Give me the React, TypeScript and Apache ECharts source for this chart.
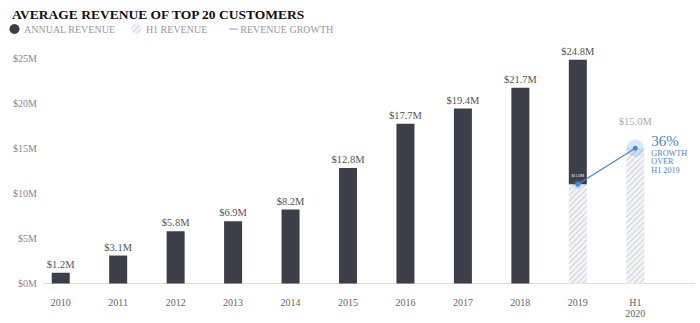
import React, { useEffect, useRef } from "react";
import * as echarts from "echarts";

const categories = ["2010", "2011", "2012", "2013", "2014", "2015", "2016", "2017", "2018", "2019", "H1\n2020"];
const annualRevenue: (number | null)[] = [1.2, 3.1, 5.8, 6.9, 8.2, 12.8, 17.7, 19.4, 21.7, 24.8, null];
const h1Revenue: (number | null)[] = [null, null, null, null, null, null, null, null, null, 11.0, 15.0];
const growthLine: (number | null)[] = [null, null, null, null, null, null, null, null, null, 11.0, 15.0];
const growthText = ["36%", "GROWTH", "OVER", "H1 2019"];
const yMin = 0;
const yMax = 25;
const yInterval = 5;

const FONT = "'Liberation Serif', 'DejaVu Serif', serif";
const DARK = "#3c3f47";
const BLUE = "#4a86cf";

export default function App() {
  const ref = useRef<HTMLDivElement>(null);
  useEffect(() => {
    if (!ref.current) return;
    const chart = echarts.init(ref.current, undefined, { renderer: "svg" });
    const darkPart = annualRevenue.map((v, i) => (v == null ? null : +(v - (h1Revenue[i] ?? 0)).toFixed(2)));
    const fmt = (v: number) => "$" + v.toFixed(1) + "M";
    const last = growthLine.length - 1;

    chart.setOption({
      animation: false,
      textStyle: { fontFamily: FONT },
      title: {
        text: "AVERAGE REVENUE OF TOP 20 CUSTOMERS",
        left: 7,
        top: 2,
        textStyle: { fontFamily: FONT, fontWeight: "bold", fontSize: 13.5, color: "#111" },
      },
      legend: {
        left: 4.5,
        top: 19,
        itemWidth: 15,
        itemHeight: 10,
        itemGap: 16,
        textStyle: { fontFamily: FONT, fontSize: 10, color: "#999", padding: [0, 0, 0, -3] },
        data: [
          { name: "ANNUAL REVENUE", icon: "circle" },
          { name: "H1 REVENUE", icon: "circle" },
          {
            name: "REVENUE GROWTH",
            icon: "path://M0,0 M15,10 M6,4.4 L15,4.4 L15,5.6 L6,5.6 Z",
            itemStyle: { color: "#8fb4e3" },
          },
        ],
      },
      grid: { left: 32, right: 36, top: 58, bottom: 39.5 },
      xAxis: {
        type: "category",
        data: categories,
        axisLine: { show: false },
        axisTick: { show: false },
        axisLabel: { fontFamily: FONT, fontSize: 10, color: "#666", margin: 13, lineHeight: 11.5 },
      },
      yAxis: {
        type: "value",
        min: yMin,
        max: yMax,
        interval: yInterval,
        splitLine: { show: false },
        axisLine: { show: false },
        axisTick: { show: false },
        axisLabel: { fontFamily: FONT, fontSize: 10, color: "#888", margin: -5, formatter: (v: number) => "$" + v + "M" },
      },
      series: [
        {
          name: "H1 REVENUE",
          type: "bar",
          stack: "rev",
          barWidth: 18,
          data: h1Revenue.map((v, i) => ({
            value: v,
            label: {
              show: i === last,
              position: "top",
              distance: 21,
              color: "#aaa",
              fontSize: 10.5,
              fontFamily: FONT,
              formatter: () => fmt(v as number),
            },
          })),
          itemStyle: {
            color: "#f3f4f6",
            decal: {
              symbol: "rect",
              symbolSize: 1,
              dashArrayX: [1, 0],
              dashArrayY: [1, 2.5],
              rotation: -Math.PI / 4,
              color: "#cfd2d8",
            },
          },
        },
        {
          name: "ANNUAL REVENUE",
          type: "bar",
          stack: "rev",
          barWidth: 18,
          itemStyle: { color: DARK },
          data: darkPart.map((v, i) => ({
            value: v,
            label: {
              show: v != null,
              position: "top",
              distance: 3,
              color: "#555",
              fontSize: 10.5,
              fontFamily: FONT,
              formatter: () => fmt(annualRevenue[i] as number),
            },
          })),
        },
        {
          name: "REVENUE GROWTH",
          type: "line",
          data: growthLine,
          symbol: "circle",
          symbolSize: 5,
          lineStyle: { color: BLUE, width: 1.2 },
          itemStyle: { color: BLUE },
          z: 5,
          label: {
            show: true,
            formatter: (p: any) => {
              if (p.dataIndex === last) {
                return "{a|" + growthText[0] + "}\n" + growthText.slice(1).map((t) => "{b|" + t + "}").join("\n");
              }
              return "{c|" + fmt(p.value) + "}";
            },
            position: "top",
            distance: 4,
            color: BLUE,
            rich: {
              a: { fontFamily: FONT, fontSize: 15, color: BLUE, lineHeight: 16 },
              b: { fontFamily: FONT, fontSize: 8.2, color: BLUE, lineHeight: 8.8 },
              c: { fontFamily: FONT, fontSize: 4, color: "#fff", lineHeight: 5 },
            },
          },
          labelLayout: (params: any) =>
            params.dataIndex === last
              ? { x: params.rect.x + params.rect.width / 2 + 16, y: params.rect.y + params.rect.height - 18, align: "left", verticalAlign: "top" }
              : {},
        },
        {
          name: "halo",
          type: "scatter",
          data: growthLine.map((v, i) => ({ value: v, symbolSize: i === last ? 17 : 9 })),
          itemStyle: { color: "rgba(90,150,230,0.3)" },
          z: 4,
          silent: true,
        },
      ],
    });

    const y0 = chart.convertToPixel({ yAxisIndex: 0 }, 0) as number;
    chart.setOption({
      graphic: [
        { type: "line", shape: { x1: 43, y1: y0, x2: 695, y2: y0 }, style: { stroke: "#dcdcdc", lineWidth: 1.2 }, z: 1 },
      ],
    });

    return () => chart.dispose();
  }, []);
  return <div ref={ref} style={{ position: "absolute", left: 0, top: 0, width: 700, height: 323 }} />;
}
